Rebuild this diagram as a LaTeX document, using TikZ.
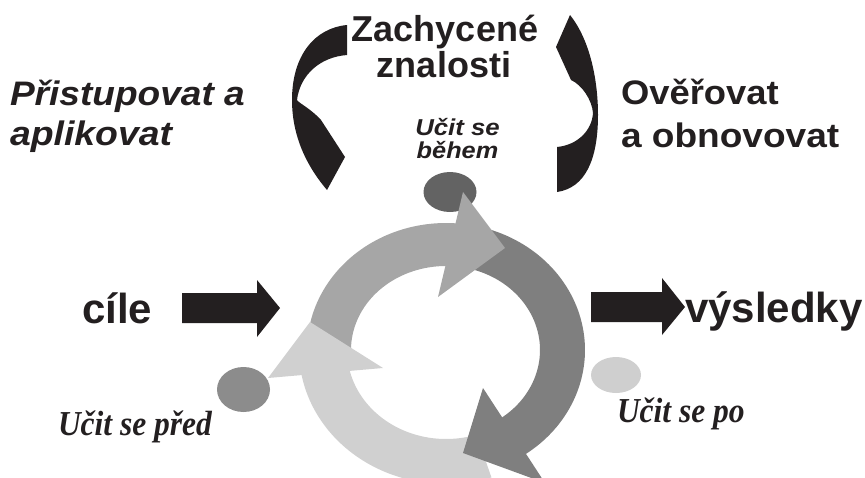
\documentclass[tikz,border=0pt]{standalone}
\usepackage{fontspec}
\usepackage{graphicx}
\usetikzlibrary{shapes.geometric}
\newfontfamily\sansf{Liberation Sans}
\newfontfamily\seriff{Liberation Serif}
\newcommand\stretchtxt[2]{\scalebox{#1}[1]{#2}}
\definecolor{ink}{HTML}{231F20}
\definecolor{ringmid}{HTML}{A6A6A6}
\definecolor{ringdark}{HTML}{7F7F7F}
\definecolor{ringlight}{HTML}{D0D0D0}
\definecolor{dotdark}{HTML}{636363}
\definecolor{dotmid}{HTML}{8C8C8C}
\definecolor{dotlight}{HTML}{CFCFCF}
\tikzset{
  txt/.style={inner sep=0pt, outer sep=0pt, text=ink},
  sidetxt/.style={txt, font=\sansf\bfseries\fontsize{34}{38}\selectfont},
  sideitx/.style={txt, font=\sansf\bfseries\itshape\fontsize{34}{38}\selectfont},
  titletxt/.style={txt, font=\sansf\bfseries\fontsize{36}{40}\selectfont},
  bigtxt/.style={txt, font=\sansf\bfseries\fontsize{42}{46}\selectfont},
  phasetxt/.style={txt, font=\seriff\bfseries\itshape\fontsize{35}{38}\selectfont},
  dot/.style={ellipse, draw=none, inner sep=0pt}
}
\begin{document}
\begin{tikzpicture}[x=1pt,y=-1pt]
\useasboundingbox (0,0) rectangle (865,477);

% small phase markers
\node[dot, fill=dotdark, minimum width=53pt, minimum height=40pt] (during) at (450,192) {};
\node[dot, fill=dotmid, minimum width=53pt, minimum height=45pt] (before) at (243.5,389.5) {};
\node[dot, fill=dotlight, minimum width=50pt, minimum height=36pt] (after) at (616,375) {};

% ring bodies
\fill[ringlight] plot[domain=72:172,samples=60] ({446+147*cos(\x)},{350+134*sin(\x)})
  -- plot[domain=172:72,samples=60] ({446+99*cos(\x)},{350+89*sin(\x)}) -- cycle;
\fill[ringmid] plot[domain=170:275,samples=60] ({446+139*cos(\x)},{350+127*sin(\x)})
  -- plot[domain=275:170,samples=60] ({446+95*cos(\x)},{350+84*sin(\x)}) -- cycle;
\fill[ringdark] plot[domain=-80:57,samples=70] ({446+139*cos(\x)},{350+127*sin(\x)})
  -- plot[domain=57:-80,samples=70] ({446+94*cos(\x)},{350+84*sin(\x)}) -- cycle;

% ring arrow heads
\coordinate (mh1) at (463,192); \coordinate (mh2) at (505,248); \coordinate (mh3) at (438,297);
\coordinate (dh1) at (483,388); \coordinate (dh2) at (463,453); \coordinate (dh3) at (545,483);
\coordinate (lh1) at (310,322); \coordinate (lh2) at (268,378); \coordinate (lh3) at (383,368);
\fill[ringmid] (mh1) -- (mh2) -- (mh3) -- cycle;
\fill[ringdark] (dh1) -- (dh2) -- (dh3) -- cycle;
\fill[ringlight] (lh1) -- (lh2) -- (lh3) -- cycle;

% block arrows in and out
\fill[ink] (182,293) -- (257,293) -- (257,280) -- (280,308) -- (257,337) -- (257,323) -- (182,323) -- cycle;
\fill[ink] (591,292) -- (662,292) -- (662,278) -- (685,307) -- (662,335) -- (662,322) -- (591,322) -- cycle;

% curved ribbon arrows around the title
\fill[ink] (347,25) .. controls (315,28) and (292,55) .. (292,100)
  .. controls (292,140) and (310,170) .. (327,190) -- (345,157) -- (321,120)
  .. controls (310,108) and (300,104) .. (297,100)
  .. controls (300,75) and (320,57) .. (347,55) -- cycle;
\fill[ink] (570,15) .. controls (590,40) and (598,80) .. (598,115)
  .. controls (598,160) and (585,188) .. (557,192) -- (557,147)
  .. controls (578,145) and (592,130) .. (593,113)
  .. controls (592,100) and (582,85) .. (571,80) -- (556,47) -- cycle;

% texts
\node[titletxt, anchor=base] (title1) at (445,41) {Zachycené};
\node[titletxt, anchor=base] (title2) at (444,77) {znalosti};
\node[sideitx, anchor=base west] (acc1) at (10,105) {\stretchtxt{1.09}{Přistupovat a}};
\node[sideitx, anchor=base west] (acc2) at (10,145) {\stretchtxt{1.1}{aplikovat}};
\node[sidetxt, anchor=base west] (ver1) at (621,104) {\stretchtxt{1.07}{Ověřovat}};
\node[sidetxt, anchor=base west] (ver2) at (621,147) {\stretchtxt{1.09}{a obnovovat}};
\node[txt, font=\sansf\bfseries\itshape\fontsize{23}{25}\selectfont, anchor=base] (dur1) at (457.5,135) {\stretchtxt{1.12}{Učit se}};
\node[txt, font=\sansf\bfseries\itshape\fontsize{23}{25}\selectfont, anchor=base] (dur2) at (457.5,158) {\stretchtxt{1.1}{během}};
\node[bigtxt, anchor=base west] (goals) at (82,323) {cíle};
\node[bigtxt, anchor=base west] (results) at (685,322) {výsledky};
\node[phasetxt, anchor=base west] (bef) at (58,435) {\stretchtxt{0.9}{Učit se před}};
\node[phasetxt, anchor=base west] (aft) at (617,422) {\stretchtxt{0.9}{Učit se po}};
\end{tikzpicture}
\end{document}
